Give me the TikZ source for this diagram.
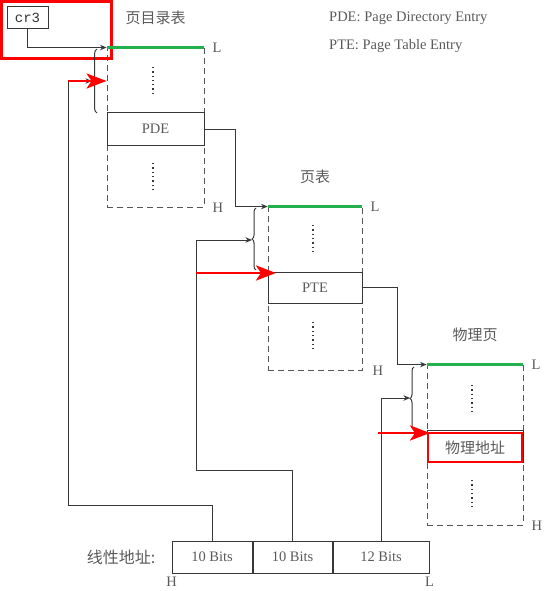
\documentclass[tikz,border=0pt]{standalone}
\usepackage{fontspec}
\setmainfont{Liberation Serif}
\setmonofont{Liberation Mono}
\newfontfamily\cjk{Noto Sans CJK SC}
\usetikzlibrary{arrows.meta, decorations.pathreplacing, positioning}

\definecolor{lowgreen}{RGB}{34,177,76}
\definecolor{ink}{RGB}{55,55,55}
\definecolor{dashgray}{RGB}{85,85,85}
\definecolor{txtgray}{RGB}{90,90,90}

\tikzset{
  lbl/.style={text=txtgray, font=\fontsize{14.5}{16}\selectfont, inner sep=1pt},
  zh/.style={text=txtgray, font=\cjk\fontsize{15}{17}\selectfont, inner sep=1pt},
  pagebox/.style={draw=dashgray, line width=0.9pt, dash pattern=on 6pt off 4pt, inner sep=0pt},
  entrybox/.style={draw=ink, line width=1pt, inner sep=0pt, minimum height=32pt, lbl},
  bitbox/.style={draw=ink, line width=1pt, inner sep=0pt, minimum height=32pt, lbl},
  lowline/.style={draw=lowgreen, line width=3.2pt},
  link/.style={draw=ink, line width=1pt, -{Stealth[length=6.5pt,width=5.5pt]}},
  hot/.style={draw=red, line width=2.8pt, -{Stealth[length=20pt,width=15pt,inset=5pt]}},
  dots/.style={draw=ink, line width=1.3pt, dash pattern=on 1.3pt off 3pt},
  grab/.style={draw=ink, line width=1pt, decorate, decoration={brace, amplitude=#1}},
}

\begin{document}
\begin{tikzpicture}[x=1pt,y=-1pt]
    \useasboundingbox (0,0) rectangle (549,591);

    % cr3
    \node[draw=red, line width=2.5pt, minimum width=110pt, minimum height=57pt] (cr3frame) at (56.5,30) {};
    \node[draw=ink, line width=1pt, minimum width=41pt, minimum height=22pt, inner sep=0pt,
          text=black!80, font=\ttfamily\fontsize{14}{16}\selectfont] (cr3) at (27.5,18) {cr3};

    % legend
    \node[lbl, anchor=west] (pdekey) at (328,18) {PDE: Page Directory Entry};
    \node[lbl, anchor=west] (ptekey) at (328,46) {PTE: Page Table Entry};

    % page directory
    \node[pagebox, minimum width=97pt, minimum height=159pt] (pd) at (155.5,127.5) {};
    \node[entrybox, minimum width=97pt] (pde) at (155.5,129) {PDE};
    \draw[lowline] (pd.north west) -- (pd.north east);
    \node[zh, above=22pt of pd.north] (pdname) {页目录表};
    \node[lbl, right=7pt of pd.north east] (pdL) {L};
    \node[lbl, right=7pt of pd.south east] (pdH) {H};
    \draw[dots] (153,67) -- (153,95);
    \draw[dots] (153,163) -- (153,190);
    \draw[grab=5pt] (97,113) -- (97,49);
    \coordinate (pdtip) at (92,81);

    % page table
    \node[pagebox, minimum width=94pt, minimum height=163pt] (pt) at (315,288.5) {};
    \node[entrybox, minimum width=94pt, minimum height=31pt] (pte) at (315,287.5) {PTE};
    \draw[lowline] (pt.north west) -- (pt.north east);
    \node[zh, above=22pt of pt.north] (ptname) {页表};
    \node[lbl, right=7pt of pt.north east] (ptL) {L};
    \node[lbl, right=9pt of pt.south east] (ptH) {H};
    \draw[dots] (313,225) -- (313,253);
    \draw[dots] (313,322) -- (313,348);
    \draw[grab=4pt] (256,270) -- (256,208);
    \coordinate (pttip) at (252,240);

    % physical page
    \node[pagebox, minimum width=96pt, minimum height=160pt] (ph) at (475,445) {};
    \node[entrybox, minimum width=96pt] (addrbase) at (475,446) {};
    \node[draw=red, line width=2.5pt, minimum width=94pt, minimum height=29pt, inner sep=0pt,
          zh] (addr) at (475,447.5) {物理地址};
    \draw[lowline] (ph.north west) -- (ph.north east);
    \node[zh, above=22pt of ph.north] (phname) {物理页};
    \node[lbl, right=7pt of ph.north east] (phL) {L};
    \node[lbl, right=7pt of ph.south east] (phH) {H};
    \draw[dots] (472,385) -- (472,413);
    \draw[dots] (472,480) -- (472,508);
    \draw[grab=4pt] (414,430) -- (414,367);
    \coordinate (phtip) at (410,398);

    % linear address
    \node[bitbox, minimum width=80pt] (b1) at (212,557) {10 Bits};
    \node[bitbox, minimum width=79pt, right=0pt of b1] (b2) {10 Bits};
    \node[bitbox, minimum width=96pt, right=0pt of b2] (b3) {12 Bits};
    \node[zh, left=15pt of b1, font=\cjk\fontsize{16}{18}\selectfont] (laddr) {线性地址:};
    \node[lbl, below=2pt of b1.south west] (laH) {H};
    \node[lbl, below=2pt of b3.south east] (laL) {L};

    % links
    \draw[link] (cr3.south) |- (pd.north west);
    \draw[link] (pde.east) -- ++(31,0) |- (pt.north west);
    \draw[link] (pte.east) -- ++(35,0) |- (ph.north west);
    \draw[link] (b1.north) |- (68,505) |- (pdtip);
    \draw[link] (b2.north) |- (196,470) |- (pttip);
    \draw[link] (b3.north) |- (phtip);
    \draw[hot] (68,81) -- (pd.west |- pdtip);
    \draw[hot] (196,273) -- (276,273);
    \draw[hot] (378,433) -- (430,433);
\end{tikzpicture}
\end{document}
